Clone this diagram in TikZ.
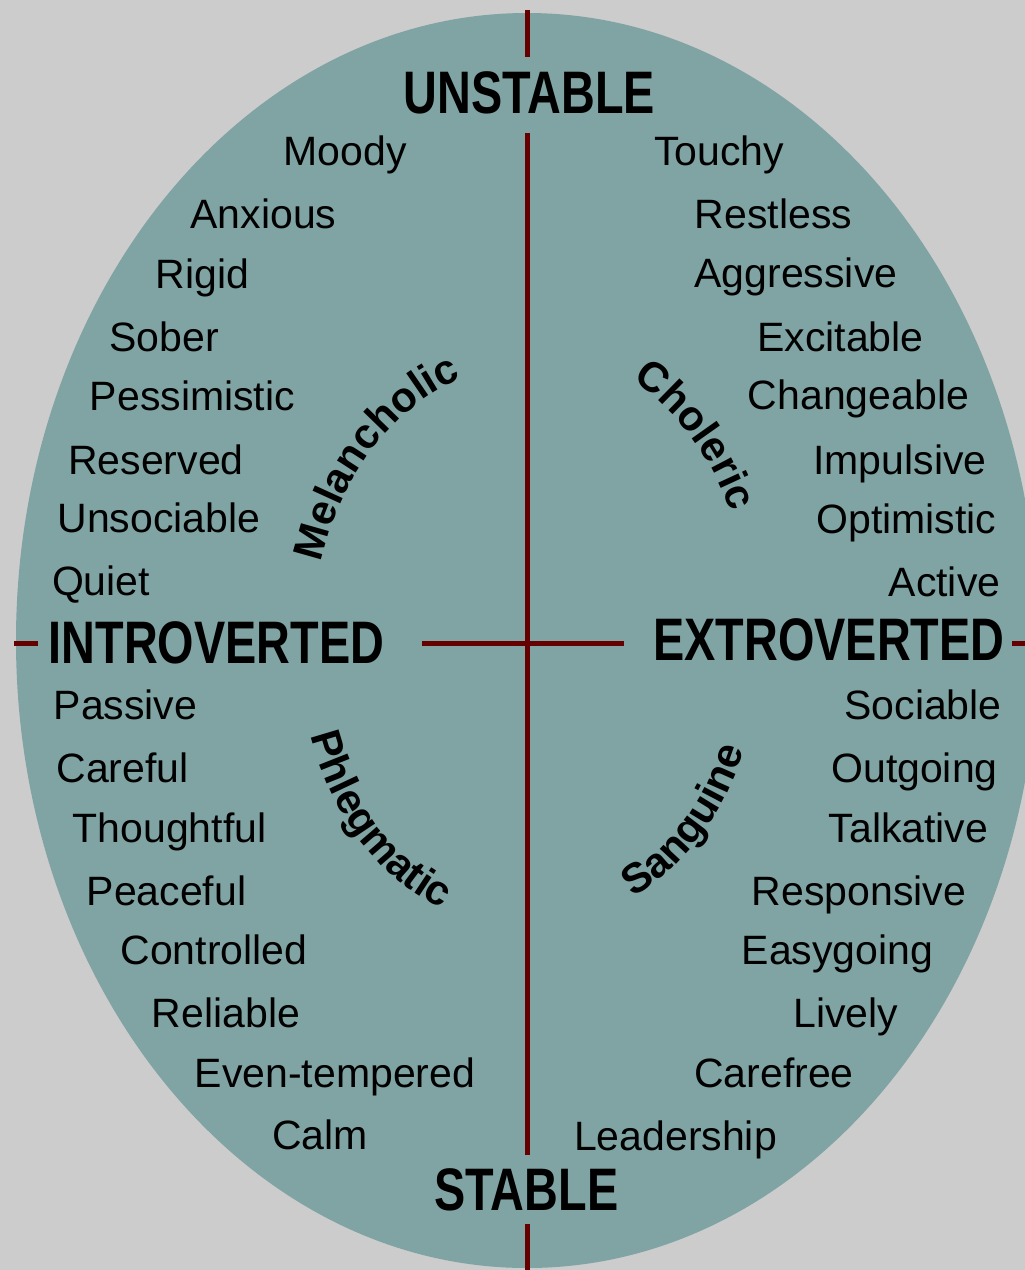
\documentclass[tikz,border=0pt]{standalone}
\usepackage{fontspec}
\setmainfont{Liberation Sans}
\usetikzlibrary{decorations.text}

\definecolor{bggray}{HTML}{CCCCCC}
\definecolor{discteal}{HTML}{80A4A4}
\definecolor{axisred}{HTML}{660000}

\begin{document}
\begin{tikzpicture}[x=1pt,y=-1pt,
    trait/.style={inner sep=0,outer sep=0,anchor=base,font=\fontsize{41}{41}\selectfont},
    pole/.style={inner sep=0,outer sep=0,anchor=base,font=\bfseries\fontsize{60}{60}\selectfont},
    axis/.style={draw=axisred,line width=5pt},
    temper/.style={decorate,decoration={text along path,text align=center,
        text={|\bfseries\fontsize{42}{42}\selectfont|#1}}}]
      \useasboundingbox (0,0) rectangle (1025,1270);
      \fill[bggray] (0,0) rectangle (1025,1270);
      \fill[discteal] (527,640.5) ellipse [x radius=511, y radius=627.5];

      % axis ends
      \coordinate(ntop) at (527,10);
      \coordinate(nend) at (527,57);
      \coordinate(nin) at (527,133);
      \coordinate(sin) at (527,1155);
      \coordinate(send) at (527,1224);
      \coordinate(sbot) at (527,1270);
      \coordinate(wtop) at (14,643);
      \coordinate(wend) at (38,643);
      \coordinate(win) at (422,643);
      \coordinate(ein) at (624,643);
      \coordinate(eend) at (1012,643);
      \coordinate(etop) at (1025,643);

      \draw[axis](ntop)--(nend);
      \draw[axis](nin)--(sin);
      \draw[axis](send)--(sbot);
      \draw[axis](wtop)--(wend);
      \draw[axis](win)--(ein);
      \draw[axis](eend)--(etop);

      \node[pole](unstable) at (529.5,113){\scalebox{0.78}[1]{UNSTABLE}};
      \node[pole](stable) at (526.5,1210){\scalebox{0.78}[1]{STABLE}};
      \node[pole](introverted) at (216.5,663){\scalebox{0.78}[1]{INTROVERTED}};
      \node[pole](extroverted) at (829,660){\scalebox{0.78}[1]{EXTROVERTED}};

      \node[trait](moody) at (345,165){Moody};
      \node[trait](anxious) at (263.5,228){Anxious};
      \node[trait](rigid) at (202.5,288){Rigid};
      \node[trait](sober) at (164,351){Sober};
      \node[trait](pessimistic) at (192.5,410){Pessimistic};
      \node[trait](reserved) at (156,474){Reserved};
      \node[trait](unsociable) at (159,532){Unsociable};
      \node[trait](quiet) at (101,595){Quiet};

      \node[trait](passive) at (125.5,719){Passive};
      \node[trait](careful) at (122.5,782){Careful};
      \node[trait](thoughtful) at (169.5,842){Thoughtful};
      \node[trait](peaceful) at (166.5,905){Peaceful};
      \node[trait](controlled) at (214,964){Controlled};
      \node[trait](reliable) at (226,1027){Reliable};
      \node[trait](eventempered) at (335,1087){Even-tempered};
      \node[trait](calm) at (320,1149){Calm};

      \node[trait](touchy) at (719,165){Touchy};
      \node[trait](restless) at (773.5,228){Restless};
      \node[trait](aggressive) at (796,287){Aggressive};
      \node[trait](excitable) at (840.5,351){Excitable};
      \node[trait](changeable) at (858.5,409){Changeable};
      \node[trait](impulsive) at (900,474){Impulsive};
      \node[trait](optimistic) at (906.5,533){Optimistic};
      \node[trait](active) at (944.5,596){Active};

      \node[trait](sociable) at (923,719){Sociable};
      \node[trait](outgoing) at (914.5,782){Outgoing};
      \node[trait](talkative) at (908.5,842){Talkative};
      \node[trait](responsive) at (859,905){Responsive};
      \node[trait](easygoing) at (837.5,964){Easygoing};
      \node[trait](lively) at (846,1027){Lively};
      \node[trait](carefree) at (774,1087){Carefree};
      \node[trait](leadership) at (675.5,1150){Leadership};

      % the four temperaments
      \coordinate(hubme) at (531,636);
      \coordinate(hubch) at (531,621);
      \coordinate(hubph) at (519,654);
      \coordinate(hubsa) at (541,651);
      \path[temper=Melancholic](hubme) ++(189.3:218 and 272)
        arc[start angle=189.3,end angle=259.3,x radius=218,y radius=272];
      \path[temper=Choleric](hubch) ++(280.7:218 and 272)
        arc[start angle=280.7,end angle=350.7,x radius=218,y radius=272];
      \path[temper=Phlegmatic](hubph) ++(170.7:218 and 272)
        arc[start angle=170.7,end angle=100.7,x radius=218,y radius=272];
      \path[temper=Sanguine](hubsa) ++(79.3:218 and 272)
        arc[start angle=79.3,end angle=9.3,x radius=218,y radius=272];
    \end{tikzpicture}
\end{document}
